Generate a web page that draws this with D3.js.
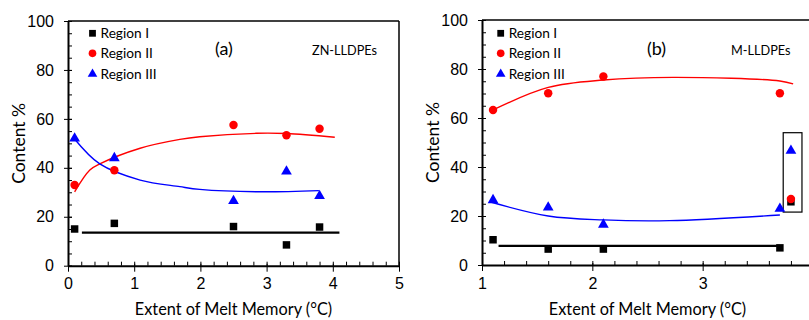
<!DOCTYPE html>
<html>
<head>
<meta charset="utf-8">
<script src="https://cdn.jsdelivr.net/npm/d3@7"></script>
<style>
  body { margin: 0; background: #fff; }
  svg { display: block; font-family: Lato, "Open Sans", sans-serif; }
</style>
</head>
<body>
<svg width="809" height="320"></svg>
<script>
// ---- panel (a) ZN-LLDPEs ----
const aX = [0.1, 0.7, 2.5, 3.3, 3.8];
const aRegion1 = [15, 17.3, 16, 8.5, 15.8];
const aRegion2 = [33, 39, 57.5, 53.3, 56];
const aRegion3 = [52, 44, 26.5, 38.5, 28.5];
// trend lines
const aFit1 = [[0.21, 13.5], [4.1, 13.5]];
const aFit2 = [[0.1, 30.2], [0.33, 39.1], [0.48, 41.6], [1.09, 48], [1.69, 51.6], [1.99, 52.7], [2.85, 54.1], [3.3, 54], [4.03, 52.5]];
const aFit3 = [[0.09, 52.1], [0.48, 41.6], [1.09, 35], [1.69, 32.3], [1.99, 31.2], [2.9, 30.2], [3.79, 30.7]];

// ---- panel (b) M-LLDPEs ----
const bX = [1.1, 1.6, 2.1, 3.7, 3.8];
const bRegion1 = [10.3, 6.5, 6.5, 7, 25.8];
const bRegion2 = [63.3, 70.1, 76.9, 70.1, 26.9];
const bRegion3 = [26.5, 23.5, 16.5, 23, 46.7];
const bFit1 = [[1.15, 7.8], [3.7, 7.8]];
const bFit2 = [[1.1, 63.3], [1.6, 72.5], [2.1, 75.5], [2.73, 76.6], [3.7, 75.1], [3.82, 73.9]];
const bFit3 = [[1.07, 25.8], [1.6, 20], [2.1, 18.4], [2.7, 18.1], [3.7, 20.4]];
const bBox = { x: [3.73, 3.9], y: [21.6, 54] };

const legendLabels = ["Region I", "Region II", "Region III"];
const colors = ["#000000", "#ff0000", "#0000ff"];
const yTicks = [0, 20, 40, 60, 80, 100];

const svg = d3.select("svg");

function drawPanel(p) {
  const x = d3.scaleLinear(p.xDomain, p.xRange);
  const y = d3.scaleLinear([0, 100], p.yRange);
  const g = svg.append("g");

  // frame (top and right)
  g.append("line").attr("x1", x.range()[0]).attr("x2", Math.min(x.range()[1], 809))
    .attr("y1", y(100)).attr("y2", y(100)).attr("stroke", "#000").attr("stroke-width", 1.5);
  if (p.rightFrame) {
    g.append("line").attr("x1", x.range()[1]).attr("x2", x.range()[1])
      .attr("y1", y(100)).attr("y2", y(0)).attr("stroke", "#000").attr("stroke-width", 1.5);
  }

  // minor ticks
  g.append("g").attr("transform", `translate(0,${y(0)})`)
    .call(d3.axisBottom(x).tickValues(p.xMinor).tickSize(-4).tickFormat(""))
    .call(s => s.select(".domain").remove());
  g.append("g").attr("transform", `translate(${x.range()[0]},0)`)
    .call(d3.axisLeft(y).tickValues(d3.range(0, 101, 5)).tickSize(-4).tickFormat(""))
    .call(s => s.select(".domain").remove());

  // major axes
  const xa = g.append("g").attr("transform", `translate(0,${y(0)})`)
    .call(d3.axisBottom(x).tickValues(p.xTicks).tickSize(6).tickSizeOuter(0).tickPadding(5).tickFormat(d3.format("d")));
  xa.selectAll(".tick line").attr("y1", -2);
  const ya = g.append("g").attr("transform", `translate(${x.range()[0]},0)`)
    .call(d3.axisLeft(y).tickValues(yTicks).tickSize(4).tickSizeOuter(0).tickPadding(10));
  ya.selectAll(".tick line").attr("x1", 4);
  g.selectAll(".domain").attr("stroke-width", 2);
  g.selectAll(".tick text").attr("font-size", 16).attr("fill", "#000");
  xa.selectAll(".tick text").attr("dy", "0.8em");

  // axis titles
  g.append("text").attr("x", (x.range()[0] + x.range()[1]) / 2).attr("y", 315)
    .attr("text-anchor", "middle").attr("font-size", 16.3).text("Extent of Melt Memory (\u00B0C)");
  g.append("text").attr("transform", `translate(${p.yTitleX},${y(50)}) rotate(-90)`)
    .attr("text-anchor", "middle").attr("dy", "0.35em").attr("font-size", 17.5).text("Content %");

  // trend lines
  const line = d3.line().x(d => x(d[0])).y(d => y(d[1])).curve(d3.curveCatmullRom);
  g.append("path").attr("d", line(p.fits[0])).attr("fill", "none").attr("stroke", colors[0]).attr("stroke-width", 2.2);
  g.append("path").attr("d", line(p.fits[1])).attr("fill", "none").attr("stroke", colors[1]).attr("stroke-width", 1.4);
  g.append("path").attr("d", line(p.fits[2])).attr("fill", "none").attr("stroke", colors[2]).attr("stroke-width", 1.4);

  // box annotation
  if (p.box) {
    g.append("rect").attr("x", x(p.box.x[0])).attr("y", y(p.box.y[1]))
      .attr("width", x(p.box.x[1]) - x(p.box.x[0])).attr("height", y(p.box.y[0]) - y(p.box.y[1]))
      .attr("fill", "none").attr("stroke", "#000").attr("stroke-width", 1.2);
  }

  // markers
  const sym = [d3.symbolSquare, d3.symbolCircle, d3.symbolTriangle];
  const sizes = [56, 56, 50];
  p.series.forEach((vals, i) => {
    g.selectAll(null).data(vals.map((v, j) => [p.xs[j], v])).join("path")
      .attr("transform", d => `translate(${x(d[0])},${y(d[1])})`)
      .attr("d", d3.symbol(sym[i], sizes[i])).attr("fill", colors[i]);
  });

  // legend
  legendLabels.forEach((lab, i) => {
    const ly = p.legendY[i];
    g.append("path").attr("transform", `translate(${p.legendX},${ly})`)
      .attr("d", d3.symbol(sym[i], i === 2 ? 40 : 46)).attr("fill", colors[i]);
    g.append("text").attr("x", p.legendX + 8).attr("y", ly).attr("dy", "0.35em")
      .attr("font-size", 13.7).text(lab);
  });

  // panel tags
  g.append("text").attr("x", p.tagX).attr("y", 49).attr("dy", "0.35em")
    .attr("font-size", 18).text(p.tag);
  g.append("text").attr("x", p.nameX).attr("y", 51).attr("dy", "0.35em")
    .attr("font-size", 12.7).text(p.name);
}

drawPanel({
  xDomain: [0, 5], xRange: [68, 399], yRange: [265.7, 21],
  xTicks: [0, 1, 2, 3, 4, 5], xMinor: d3.range(0, 5.01, 0.2),
  xs: aX, series: [aRegion1, aRegion2, aRegion3], fits: [aFit1, aFit2, aFit3],
  rightFrame: true, yTitleX: 19,
  legendX: 92.5, legendY: [33.3, 53.3, 74],
  tag: "(a)", tagX: 215, name: "ZN-LLDPEs", nameX: 312
});

drawPanel({
  xDomain: [1, 4], xRange: [482, 813], yRange: [265, 20],
  xTicks: [1, 2, 3], xMinor: d3.range(1, 4.01, 0.2),
  xs: bX, series: [bRegion1, bRegion2, bRegion3], fits: [bFit1, bFit2, bFit3],
  box: bBox, rightFrame: false, yTitleX: 433,
  legendX: 500.7, legendY: [33.3, 53.3, 74],
  tag: "(b)", tagX: 647, name: "M-LLDPEs", nameX: 731
});
</script>
</body>
</html>
